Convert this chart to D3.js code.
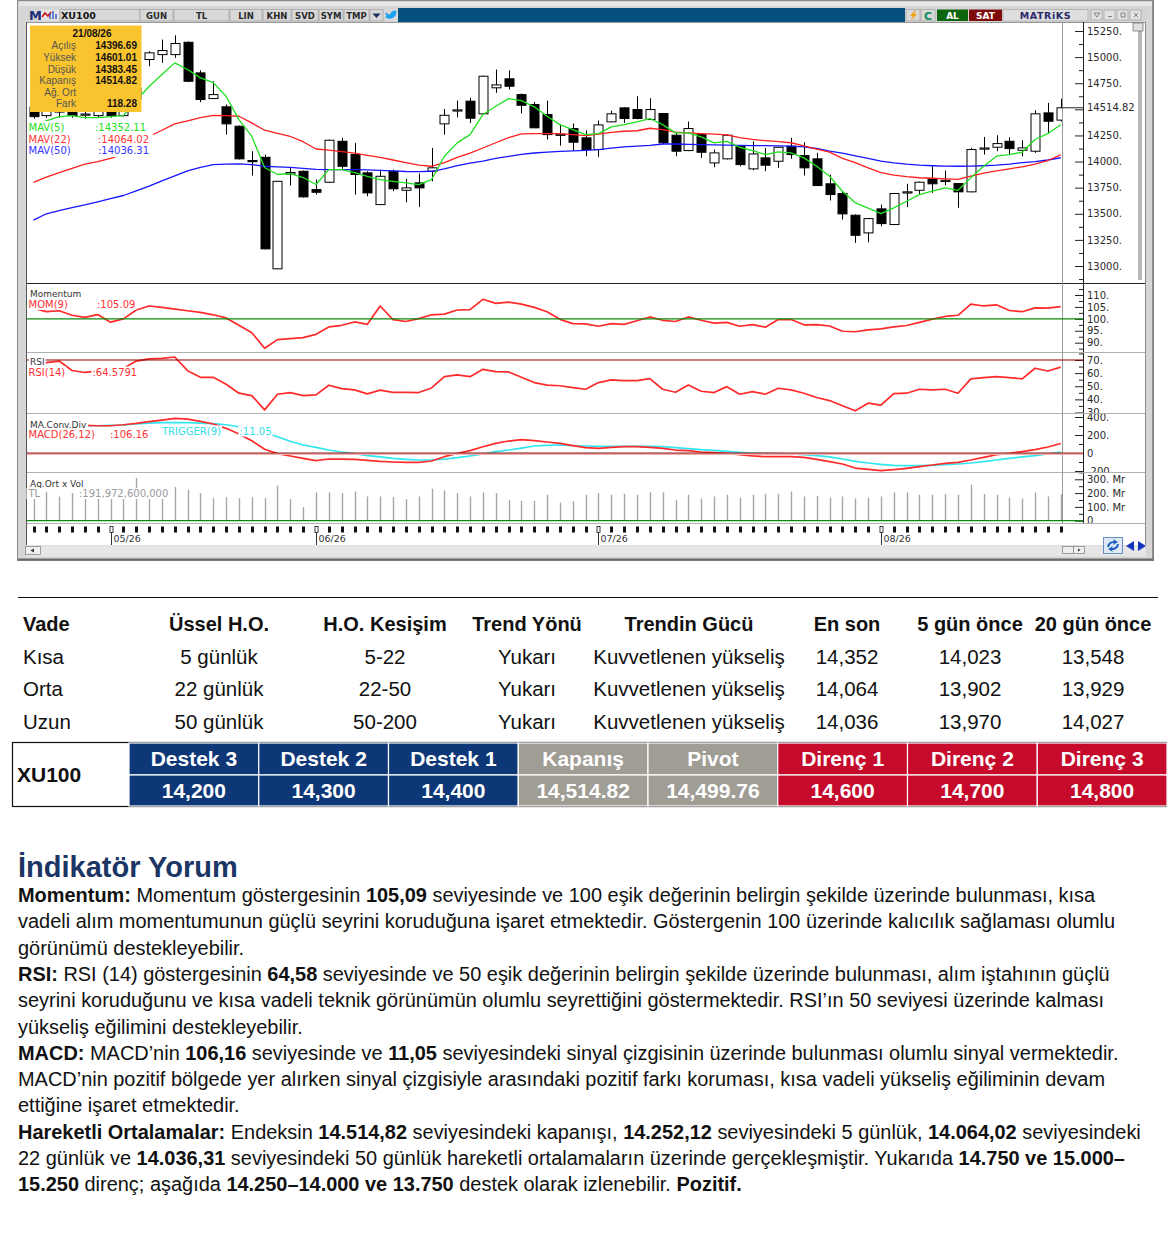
<!DOCTYPE html>
<html>
<head>
<meta charset="utf-8">
<script src="https://d3js.org/d3.v7.min.js"></script>
<style>
  body { margin: 0; background: #fff; }
  svg { display: block; }
</style>
</head>
<body>
<div id="chart"></div>
<script>
// ---- XU100 daily candles (index 0 .. 80, last = 21/08/26) ----
const opens = [14520,14440,14480,14560,14450,14440,14600,14440,14600,14977,
  15024,15024,15142,14849,14603,14524,14338,14010,14041,12973,
  13880,13907,13732,13802,14194,14067,13892,13588,13907,13725,
  13796,13907,14361,14485,14578,14457,14706,14792,14641,14546,
  14450,14255,14316,14227,14115,14380,14514,14498,14402,14460,
  14252,14105,14258,13987,14026,14147,13930,14035,14003,14147,
  14057,14026,13787,13694,13486,13317,13547,13397,13700,13725,
  13837,13810,13789,13710,14120,14137,14194,14108,14099,14466,
  14396.69];
const highs = [14560,14540,14580,14600,14560,14590,14620,14640,14760,15056,
  15168,15209,15150,14874,14769,14546,14345,14099,14067,13815,
  13940,13915,13828,14210,14227,14179,13907,13923,13923,13834,
  13885,14131,14504,14584,14610,14822,14881,14873,14651,14570,
  14584,14354,14364,14297,14393,14488,14520,14625,14606,14465,
  14274,14383,14265,14115,14258,14155,14194,14131,14140,14227,
  14185,14083,13876,13716,13495,13460,13588,13700,13787,13808,
  13955,13914,13795,14131,14236,14252,14233,14204,14491,14562,
  14601.01];
const lows = [14410,14420,14420,14420,14410,14420,14420,14430,14560,14912,
  14945,14993,14760,14568,14600,14258,14020,13866,13160,12970,
  13770,13655,13684,13795,13930,13684,13668,13585,13716,13610,
  13566,13811,14258,14424,14370,14452,14658,14689,14460,14320,
  14211,14153,14105,14051,14045,14378,14370,14405,14398,14165,
  14051,14099,14035,13946,14020,13955,13917,13907,13940,14026,
  13866,13765,13627,13445,13222,13228,13381,13395,13563,13690,
  13700,13773,13557,13705,14067,14099,14067,14051,14083,14265,
  14383.45];
const closes = [14430,14500,14485,14440,14455,14560,14440,14600,14700,15041,
  15063,15130,14769,14594,14641,14361,14026,14000,13164,13811,
  13895,13662,13706,14204,13955,13876,13700,13859,13739,13748,
  13748,13940,14443,14495,14415,14817,14734,14721,14539,14323,
  14258,14262,14185,14115,14351,14457,14412,14412,14498,14179,
  14099,14316,14089,14083,14252,13971,14073,13965,14137,14067,
  13940,13770,13684,13499,13294,13454,13406,13694,13710,13802,
  13787,13820,13710,14115,14130,14172,14124,14131,14457,14386,
  14514.82];

// ---- moving averages ----
const mav5 = [14350,14390,14430,14440,14420,14420,14430,14440,14584,14718,
  14833,14945,14881,14801,14756,14625,14402,14242,13943,13876,
  13885,13847,13780,13923,13923,13895,13859,13828,13811,13796,
  13780,13828,14051,14179,14258,14450,14529,14603,14584,14524,
  14434,14354,14306,14258,14268,14332,14354,14380,14412,14354,
  14275,14275,14236,14179,14194,14137,14105,14067,14093,14083,
  14035,13955,13859,13716,13605,13555,13502,13557,13620,13684,
  13716,13748,13725,13844,13955,14051,14067,14089,14211,14268,
  14352.11];
const mav22 = [13800,13850,13895,13935,13975,14000,14030,14070,14160,14240,
  14300,14360,14390,14420,14443,14440,14434,14370,14300,14270,
  14240,14190,14120,14110,14095,14080,14060,14040,14015,13990,
  13965,13955,13990,14040,14080,14130,14180,14230,14265,14268,
  14268,14268,14258,14249,14262,14280,14290,14295,14319,14305,
  14282,14275,14268,14262,14255,14230,14212,14200,14190,14180,
  14150,14120,14090,14030,13990,13940,13895,13870,13855,13845,
  13840,13835,13830,13860,13890,13910,13930,13950,13975,14010,
  14064.02];
const mav50 = [13440,13500,13530,13558,13585,13615,13645,13675,13720,13765,
  13815,13862,13910,13945,13971,13975,13978,13970,13955,13950,
  13945,13935,13925,13923,13923,13923,13920,13915,13910,13905,
  13903,13907,13930,13960,13985,14005,14030,14050,14068,14082,
  14090,14097,14102,14108,14115,14128,14140,14147,14155,14168,
  14168,14165,14163,14160,14157,14155,14153,14152,14150,14148,
  14140,14125,14099,14080,14055,14030,14005,13988,13975,13965,
  13960,13957,13955,13956,13960,13966,13975,13990,14000,14015,
  14036.31];

// ---- indicators ----
const mom9 = [104.4,103.0,103.4,101.5,100.6,101.8,98.6,100.0,103.7,105.4,
  104.8,104.1,103.4,102.7,101.7,100.4,97.3,94.2,87.7,91.3,
  91.7,92.1,93.5,96.6,97.3,98.7,97.7,105.4,99.7,98.9,
  100.1,101.7,102.0,103.7,103.9,108.2,106.5,107.0,106.2,104.8,
  103.0,99.8,98.0,97.9,96.9,98.0,97.7,99.2,100.8,99.4,
  98.9,100.8,99.4,98.2,98.5,96.9,97.6,96.5,99.7,99.7,
  97.5,97.6,97.0,94.8,94.6,95.4,95.8,96.6,97.2,98.5,
  99.9,101.0,101.5,106.2,105.4,105.9,103.5,103.0,104.6,104.5,
  105.09];
const rsi14 = [67.5,68.0,69.2,62.0,60.5,61.5,62.0,63.5,69.2,70.8,
  71.3,72.3,61.9,56.8,56.8,51.5,44.7,42.9,32.0,43.9,
  45.2,42.9,43.4,50.8,48.2,47.2,44.2,47.0,45.4,45.4,
  45.2,48.7,57.3,58.6,57.3,62.9,61.1,60.9,56.8,52.8,
  50.8,50.4,49.0,47.7,52.8,54.8,54.3,54.3,55.8,47.7,
  45.4,51.0,46.2,45.2,49.7,43.9,45.9,43.9,48.5,47.2,
  44.7,41.4,39.1,35.1,31.3,37.1,35.6,44.4,44.7,47.7,
  47.2,47.7,44.7,55.6,56.6,57.3,56.6,55.6,63.7,61.6,
  64.58];
const macdLine = [337,329,322,314,307,303,303,314,329,348,
  366,385,377,352,322,274,211,137,41,-7,
  -33,-59,-85,-67,-67,-70,-81,-93,-100,-104,
  -104,-89,-41,-4,26,70,107,133,148,137,
  122,106,81,59,52,63,70,70,63,52,
  33,26,11,4,-4,-19,-33,-41,-41,-41,
  -48,-70,-96,-122,-167,-181,-196,-185,-170,-152,
  -133,-115,-104,-78,-48,-19,-4,15,37,67,
  106.16];
const triggerLine = [307,303,303,303,303,303,307,311,322,333,
  337,337,337,333,326,314,292,263,226,181,
  130,89,63,33,11,-7,-30,-44,-59,-70,
  -78,-78,-67,-52,-33,-11,15,33,55,78,
  85,89,81,78,74,74,74,74,74,70,
  59,48,37,30,19,7,0,-4,-7,-11,
  -19,-30,-44,-67,-93,-111,-126,-137,-141,-141,
  -137,-130,-122,-111,-96,-78,-59,-44,-30,-11,
  11.05];
const volumeMr = [190,210,175,200,185,220,195,205,310,230,
  215,244,224,200,163,171,163,171,163,254,
  156,98,205,205,200,212,176,176,171,156,
  176,232,220,200,176,205,200,151,144,144,
  188,132,141,188,200,188,195,188,205,205,
  151,188,161,176,188,168,188,195,195,212,
  176,180,168,176,161,168,176,205,205,188,
  188,193,188,261,193,188,168,161,205,176,
  191.97];

// ---- axis ticks and labels ----
const monthStarts = [6, 22, 44, 66];
const monthLabels = ["05/26", "06/26", "07/26", "08/26"];
const priceTicks = [13000, 13250, 13500, 13750, 14000, 14250, 14500, 14750, 15000, 15250];
const momTicks = [90, 95, 100, 105, 110];
const rsiTicks = [30, 40, 50, 60, 70];
const macdTicks = [-200, 0, 200, 400];
const volTicks = [0, 100, 200, 300];

// ---- info box / legends ----
const infoDate = "21/08/26";
const infoLabels = ["Açılış", "Yüksek", "Düşük", "Kapanış", "Ağ. Ort", "Fark"];
const infoValues = ["14396.69", "14601.01", "14383.45", "14514.82", "", "118.28"];
const lastClose = 14514.82;

// ---- trend table ----
const trendHeaders = ["Vade", "Üssel H.O.", "H.O. Kesişim", "Trend Yönü", "Trendin Gücü", "En son", "5 gün önce", "20 gün önce"];
const vadeCol = ["Kısa", "Orta", "Uzun"];
const usselCol = ["5 günlük", "22 günlük", "50 günlük"];
const kesisimCol = ["5-22", "22-50", "50-200"];
const yonCol = ["Yukarı", "Yukarı", "Yukarı"];
const gucCol = ["Kuvvetlenen yükseliş", "Kuvvetlenen yükseliş", "Kuvvetlenen yükseliş"];
const enSonCol = ["14,352", "14,064", "14,036"];
const besGunCol = ["14,023", "13,902", "13,970"];
const yirmiGunCol = ["13,548", "13,929", "14,027"];

// ---- pivot levels ----
const pivotLabels = ["Destek 3", "Destek 2", "Destek 1", "Kapanış", "Pivot", "Direnç 1", "Direnç 2", "Direnç 3"];
const pivotValues = ["14,200", "14,300", "14,400", "14,514.82", "14,499.76", "14,600", "14,700", "14,800"];
const pivotKinds = ["s", "s", "s", "c", "c", "r", "r", "r"];

// ---- comment text (segments: [text, bold]) ----
const commentLines = [
  [["Momentum:", 1], [" Momentum göstergesinin ", 0], ["105,09", 1], [" seviyesinde ve 100 eşik değerinin belirgin şekilde üzerinde bulunması, kısa", 0]],
  [["vadeli alım momentumunun güçlü seyrini koruduğuna işaret etmektedir. Göstergenin 100 üzerinde kalıcılık sağlaması olumlu", 0]],
  [["görünümü destekleyebilir.", 0]],
  [["RSI:", 1], [" RSI (14) göstergesinin ", 0], ["64,58", 1], [" seviyesinde ve 50 eşik değerinin belirgin şekilde üzerinde bulunması, alım iştahının güçlü", 0]],
  [["seyrini koruduğunu ve kısa vadeli teknik görünümün olumlu seyrettiğini göstermektedir. RSI’ın 50 seviyesi üzerinde kalması", 0]],
  [["yükseliş eğilimini destekleyebilir.", 0]],
  [["MACD:", 1], [" MACD’nin ", 0], ["106,16", 1], [" seviyesinde ve ", 0], ["11,05", 1], [" seviyesindeki sinyal çizgisinin üzerinde bulunması olumlu sinyal vermektedir.", 0]],
  [["MACD’nin pozitif bölgede yer alırken sinyal çizgisiyle arasındaki pozitif farkı koruması, kısa vadeli yükseliş eğiliminin devam", 0]],
  [["ettiğine işaret etmektedir.", 0]],
  [["Hareketli Ortalamalar:", 1], [" Endeksin ", 0], ["14.514,82", 1], [" seviyesindeki kapanışı, ", 0], ["14.252,12", 1], [" seviyesindeki 5 günlük, ", 0], ["14.064,02", 1], [" seviyesindeki", 0]],
  [["22 günlük ve ", 0], ["14.036,31", 1], [" seviyesindeki 50 günlük hareketli ortalamaların üzerinde gerçekleşmiştir. Yukarıda ", 0], ["14.750 ve 15.000–", 1]],
  [["15.250", 1], [" direnç; aşağıda ", 0], ["14.250–14.000 ve 13.750", 1], [" destek olarak izlenebilir. ", 0], ["Pozitif.", 1]]
];

// ================= layout =================
const W = 1169, H = 1236;
const plotL = 27, plotR = 1062, axisX = 1083, areaR = 1145;
const panels = {
  price: [22, 283], mom: [284, 352], rsi: [353, 413], macd: [414, 472], vol: [473, 523]
};
const chartFont = "DejaVu Sans, Verdana, sans-serif";
const docFont = "Liberation Sans, Arial, sans-serif";

const svg = d3.select("#chart").append("svg")
  .attr("width", W).attr("height", H)
  .style("font-family", chartFont);
const defs = svg.append("defs");

// scales
const x = d3.scaleLinear().domain([0, 80]).range([33.5, 1060.7]);
const yPrice = d3.scaleLinear().domain([13000, 15250]).range([266, 31]);
const yMom = d3.scaleLinear().domain([90, 110]).range([342.7, 295]);
const yRsi = d3.scaleLinear().domain([30, 70]).range([412.5, 360]);
const yMacd = d3.scaleLinear().domain([-200, 200]).range([471, 435]);
const yVol = d3.scaleLinear().domain([0, 300]).range([520.7, 479.3]);

function addClip(id, x0, y0, x1, y1) {
  defs.append("clipPath").attr("id", id).append("rect")
    .attr("x", x0).attr("y", y0).attr("width", x1 - x0).attr("height", y1 - y0);
}
Object.entries(panels).forEach(([k, p]) => {
  addClip("clip-" + k, plotL, p[0], plotR, p[1]);
  addClip("aclip-" + k, plotR + 1, p[0], areaR, p[1]);
});

// ================= window frame =================
svg.append("rect").attr("x", 17.5).attr("y", 0.5).attr("width", 1136).attr("height", 560)
  .attr("fill", "#d6d6d6").attr("stroke", "#8a8a8a");
svg.append("rect").attr("x", 19).attr("y", 2).attr("width", 1133).attr("height", 4).attr("fill", "#e6e6e6");
svg.append("line").attr("x1", 18).attr("x2", 1154).attr("y1", 559.5).attr("y2", 559.5).attr("stroke", "#6a6a6a").attr("stroke-width", 2);
svg.append("line").attr("x1", 1153).attr("x2", 1153).attr("y1", 1).attr("y2", 560).attr("stroke", "#7a7a7a").attr("stroke-width", 1.5);

// toolbar
const tb = svg.append("g");
tb.append("rect").attr("x", 27).attr("y", 8).attr("width", 1120).attr("height", 14).attr("fill", "#d4d4d4");
tb.append("text").attr("x", 29).attr("y", 20).text("M")
  .attr("font-size", 13).attr("font-weight", "bold").attr("fill", "#1c2f7a");
tb.append("rect").attr("x", 41).attr("y", 9.5).attr("width", 18).attr("height", 11).attr("fill", "#e4e4e4");
tb.append("path").attr("d", "M42,17 L45,13 L48,16 L51,12").attr("fill", "none").attr("stroke", "#d01010").attr("stroke-width", 1.5);
tb.append("path").attr("d", "M50,19 L50,13 M53,19 L53,11 M56,19 L56,14").attr("stroke", "#2040c0").attr("stroke-width", 1.2);
tb.append("rect").attr("x", 60).attr("y", 9.5).attr("width", 80).attr("height", 11.5).attr("fill", "#d8d8d8").attr("stroke", "#9a9a9a").attr("stroke-width", 0.6);
tb.append("text").attr("x", 61).attr("y", 19).text("XU100").attr("font-size", 9.5).attr("font-weight", "bold").attr("fill", "#111");
[[140, 173, "GUN"], [174, 229, "TL"], [230, 262, "LIN"], [263, 291, "KHN"], [292, 318, "SVD"], [319, 343, "SYM"], [344, 369, "TMP"]]
  .forEach(([a, b, t]) => {
    tb.append("rect").attr("x", a).attr("y", 9.5).attr("width", b - a).attr("height", 11.5)
      .attr("fill", "#d8d8d8").attr("stroke", "#9a9a9a").attr("stroke-width", 0.6);
    tb.append("text").attr("x", (a + b) / 2).attr("y", 18.8).attr("text-anchor", "middle").text(t)
      .attr("font-size", 8.5).attr("font-weight", "bold").attr("fill", "#2a2a2a");
  });
tb.append("rect").attr("x", 370).attr("y", 9.5).attr("width", 13).attr("height", 11.5).attr("fill", "#d8d8d8").attr("stroke", "#9a9a9a").attr("stroke-width", 0.6);
tb.append("path").attr("d", "M372.5,13.5 L380.5,13.5 L376.5,18 Z").attr("fill", "#1a2a5a");
tb.append("rect").attr("x", 384).attr("y", 9.5).attr("width", 14).attr("height", 11.5).attr("fill", "#d8d8d8");
tb.append("path").attr("d", "M385,17 Q388,20 393,18 Q397,15 396,12 L398,11 L396,11 Q394,10 392,11.5 Q390,13 390.5,14.5 Q387,14 385.5,12 Q385,15 387,16 Z")
  .attr("fill", "#1da1f2");
tb.append("rect").attr("x", 398).attr("y", 8).attr("width", 507).attr("height", 14).attr("fill", "#05507e");
tb.append("rect").attr("x", 906).attr("y", 9.5).attr("width", 14).attr("height", 11.5).attr("fill", "#d8d8d8").attr("stroke", "#9a9a9a").attr("stroke-width", 0.6);
tb.append("path").attr("d", "M915,10.5 L910,16 L913,16 L911,20.5 L917,14 L914,14 L916,10.5 Z").attr("fill", "#f0a000");
tb.append("rect").attr("x", 921).attr("y", 9.5).attr("width", 14).attr("height", 11.5).attr("fill", "#d8d8d8").attr("stroke", "#9a9a9a").attr("stroke-width", 0.6);
tb.append("text").attr("x", 928).attr("y", 19.5).attr("text-anchor", "middle").text("C")
  .attr("font-size", 11).attr("font-weight", "bold").attr("fill", "#0a8a5a");
tb.append("rect").attr("x", 937).attr("y", 9.5).attr("width", 31).attr("height", 11.5).attr("fill", "#0d660d");
tb.append("text").attr("x", 952.5).attr("y", 19).attr("text-anchor", "middle").text("AL")
  .attr("font-size", 9).attr("font-weight", "bold").attr("fill", "#fff");
tb.append("rect").attr("x", 969).attr("y", 9.5).attr("width", 33).attr("height", 11.5).attr("fill", "#7e0c0c");
tb.append("text").attr("x", 985.5).attr("y", 19).attr("text-anchor", "middle").text("SAT")
  .attr("font-size", 9).attr("font-weight", "bold").attr("fill", "#fff");
tb.append("rect").attr("x", 1003).attr("y", 9.5).attr("width", 85).attr("height", 11.5).attr("fill", "#dedede").attr("stroke", "#a0a0a0").attr("stroke-width", 0.6);
tb.append("text").attr("x", 1045.5).attr("y", 19).attr("text-anchor", "middle").text("MATRiKS")
  .attr("font-size", 9.5).attr("font-weight", "bold").attr("fill", "#2a2a6a").attr("letter-spacing", 0.6);
[1091, 1104, 1117, 1130].forEach((bx, i) => {
  tb.append("rect").attr("x", bx).attr("y", 10).attr("width", 11).attr("height", 10)
    .attr("fill", "#e2e2e2").attr("stroke", "#a0a0a0").attr("stroke-width", 0.7);
  const g = ["M93,13 L99,13 L96,17 Z", "M94,16.5 L98,16.5", "M94,13 L98,13 L98,17 L94,17 Z", "M94,13 L98,17 M98,13 L94,17"][i];
  tb.append("path").attr("d", g).attr("transform", `translate(${bx - 90},0)`)
    .attr("fill", "none").attr("stroke", "#777").attr("stroke-width", 0.9);
});

// white chart area
svg.append("rect").attr("x", plotL).attr("y", 22).attr("width", areaR - plotL).attr("height", 523).attr("fill", "#fff");
svg.append("line").attr("x1", plotL - 0.5).attr("x2", plotL - 0.5).attr("y1", 22).attr("y2", 545).attr("stroke", "#555");
svg.append("line").attr("x1", plotL).attr("x2", areaR).attr("y1", 22.5).attr("y2", 22.5).attr("stroke", "#999");
svg.append("line").attr("x1", areaR + 0.5).attr("x2", areaR + 0.5).attr("y1", 22).attr("y2", 545).attr("stroke", "#888");
svg.append("rect").attr("x", 1138).attr("y", 30).attr("width", 4).attr("height", 250).attr("fill", "#b8b8b8");
svg.append("rect").attr("x", 1133).attr("y", 23).attr("width", 10).attr("height", 8).attr("fill", "#e0e0e0").attr("stroke", "#777").attr("stroke-width", 0.8);

// panel separators
svg.append("line").attr("x1", plotL).attr("x2", areaR).attr("y1", 283.5).attr("y2", 283.5).attr("stroke", "#222");
[352.5, 413.5, 472.5, 523.5].forEach(yy => {
  svg.append("line").attr("x1", plotL).attr("x2", areaR).attr("y1", yy).attr("y2", yy).attr("stroke", "#b0b0b0").attr("stroke-width", 1.2);
});
svg.append("line").attr("x1", plotR + 0.5).attr("x2", plotR + 0.5).attr("y1", 22).attr("y2", 523).attr("stroke", "#999");

// ================= right axes =================
function rightAxis(key, scale, ticks, fmt) {
  const p = panels[key];
  const g = svg.append("g").attr("clip-path", `url(#aclip-${key})`);
  const step = ticks[1] - ticks[0];
  const minor = [];
  for (let i = -1; i < ticks.length; i++) minor.push(ticks[0] + step * (i + 0.5));
  const ga = g.append("g").attr("transform", `translate(${axisX},0)`)
    .call(d3.axisRight(scale).tickValues(ticks).tickSizeInner(-8).tickSizeOuter(0).tickPadding(4).tickFormat(fmt));
  const gm = g.append("g").attr("transform", `translate(${axisX},0)`)
    .call(d3.axisRight(scale).tickValues(minor).tickSizeInner(-4).tickSizeOuter(0).tickFormat(""));
  [ga, gm].forEach(s => {
    s.select(".domain").remove();
    s.attr("font-family", null).attr("font-size", null);
    s.selectAll("line").attr("stroke", "#222");
  });
  ga.selectAll("text").attr("font-family", chartFont).attr("font-size", 10).attr("fill", "#2a2a2a");
  g.append("line").attr("x1", axisX + 0.5).attr("x2", axisX + 0.5).attr("y1", p[0]).attr("y2", p[1]).attr("stroke", "#222");
  return g;
}
// the 14500 label sits under the last-price marker, so it is left blank
rightAxis("price", yPrice, priceTicks, d => d === 14500 ? "" : d + ".");
rightAxis("mom", yMom, momTicks, d => d + ".");
rightAxis("rsi", yRsi, rsiTicks, d => d + ".");
rightAxis("macd", yMacd, macdTicks, d => d === 0 ? "0" : (d < 0 ? String(d) : d + "."));
rightAxis("vol", yVol, volTicks, d => d === 0 ? "0" : d + ". Mr");

// current price marker
const yLast = yPrice(lastClose);
svg.append("line").attr("x1", plotR).attr("x2", axisX).attr("y1", yLast).attr("y2", yLast).attr("stroke", "#222");
const lastTxt = svg.append("text").attr("x", axisX + 4).attr("y", yLast).attr("dy", "0.32em")
  .attr("font-size", 10).attr("fill", "#2a2a2a").text(d3.format(".2f")(lastClose));
{
  const b = lastTxt.node().getBBox();
  svg.insert("rect", () => lastTxt.node()).attr("x", b.x - 1).attr("y", b.y - 1)
    .attr("width", b.width + 4).attr("height", b.height + 2).attr("fill", "#fff");
}

// ================= price panel =================
const pricePlot = svg.append("g").attr("clip-path", "url(#clip-price)");
const idx = d3.range(closes.length);
const bodyW = 9;
const candles = pricePlot.selectAll(".candle").data(idx).enter().append("g").attr("class", "candle");
candles.append("line")
  .attr("x1", i => Math.round(x(i)) + 0.5).attr("x2", i => Math.round(x(i)) + 0.5)
  .attr("y1", i => yPrice(highs[i])).attr("y2", i => yPrice(lows[i]))
  .attr("stroke", "#000");
candles.append("rect")
  .attr("x", i => Math.round(x(i)) - bodyW / 2 + 0.5)
  .attr("y", i => Math.min(yPrice(opens[i]), yPrice(closes[i])))
  .attr("width", bodyW)
  .attr("height", i => Math.max(1.2, Math.abs(yPrice(opens[i]) - yPrice(closes[i]))))
  .attr("fill", i => closes[i] >= opens[i] ? "#fff" : "#000")
  .attr("stroke", "#000").attr("stroke-width", 1);

function drawLine(g, values, yScale, color, width) {
  g.append("path").datum(values)
    .attr("fill", "none").attr("stroke", color).attr("stroke-width", width)
    .attr("stroke-linejoin", "round")
    .attr("d", d3.line().x((d, i) => x(i)).y(d => yScale(d)));
}
drawLine(pricePlot, mav50, yPrice, "#1515ff", 1.3);
drawLine(pricePlot, mav22, yPrice, "#ff1e1e", 1.3);
drawLine(pricePlot, mav5, yPrice, "#20e020", 1.3);

// label with white background
function bgLabel(g, lx, ly, text, color, size, weight) {
  const t = g.append("text").attr("x", lx).attr("y", ly).text(text)
    .attr("fill", color).attr("font-size", size).attr("font-weight", weight || "normal");
  const b = t.node().getBBox();
  g.insert("rect", () => t.node()).attr("x", b.x - 1).attr("y", b.y)
    .attr("width", b.width + 2).attr("height", b.height).attr("fill", "#fff");
  return t;
}

// MAV legend
const leg = svg.append("g");
leg.append("rect").attr("x", plotL).attr("y", 121).attr("width", 126).attr("height", 36).attr("fill", "#fff");
[["MAV(5)", ":14352.11", "#22dd22", 95], ["MAV(22)", ":14064.02", "#ff3535", 98], ["MAV(50)", ":14036.31", "#3535ff", 98]]
  .forEach(([a, b, c, vx], k) => {
    leg.append("text").attr("x", 28.5).attr("y", 131 + k * 11.7).attr("font-size", 10).attr("fill", c).text(a);
    leg.append("text").attr("x", vx).attr("y", 131 + k * 11.7).attr("font-size", 10).attr("fill", c).text(b);
  });

// info box
const info = svg.append("g").attr("font-family", docFont);
info.append("rect").attr("x", 30).attr("y", 25.5).attr("width", 111.5).attr("height", 86.5).attr("fill", "#fac42e");
info.append("text").attr("x", 92).attr("y", 37).attr("text-anchor", "middle").text(infoDate)
  .attr("font-size", 10).attr("font-weight", "bold").attr("fill", "#111");
infoLabels.forEach((l, k) => {
  info.append("text").attr("x", 76).attr("y", 49.3 + k * 11.6).attr("text-anchor", "end").text(l)
    .attr("font-size", 10).attr("fill", "#555");
  info.append("text").attr("x", 137).attr("y", 49.3 + k * 11.6).attr("text-anchor", "end").text(infoValues[k])
    .attr("font-size", 10).attr("font-weight", "bold").attr("fill", "#111");
});

// ================= momentum =================
const momG = svg.append("g").attr("clip-path", "url(#clip-mom)");
svg.append("line").attr("x1", plotL).attr("x2", axisX).attr("y1", yMom(100)).attr("y2", yMom(100)).attr("stroke", "#0a8a0a").attr("stroke-width", 1.2);
drawLine(momG, mom9, yMom, "#ff2a2a", 1.7);
const momLab = svg.append("g");
bgLabel(momLab, 30, 297, "Momentum", "#333", 9);
bgLabel(momLab, 28.5, 308, "MOM(9)", "#ff3030", 10);
bgLabel(momLab, 97, 308, ":105.09", "#ff3030", 10);

// ================= RSI =================
const rsiG = svg.append("g").attr("clip-path", "url(#clip-rsi)");
svg.append("line").attr("x1", plotL).attr("x2", axisX).attr("y1", yRsi(70)).attr("y2", yRsi(70)).attr("stroke", "#900000").attr("stroke-width", 1.2);
drawLine(rsiG, rsi14, yRsi, "#ff2a2a", 1.7);
const rsiLab = svg.append("g");
bgLabel(rsiLab, 30, 365, "RSI", "#333", 9);
bgLabel(rsiLab, 28.5, 375.5, "RSI(14)", "#ff3030", 10);
bgLabel(rsiLab, 92.5, 375.5, ":64.5791", "#ff3030", 10);

// ================= MACD =================
const macdG = svg.append("g").attr("clip-path", "url(#clip-macd)");
svg.append("line").attr("x1", plotL).attr("x2", axisX).attr("y1", yMacd(0) + 1).attr("y2", yMacd(0) + 1).attr("stroke", "#f2b0b0").attr("stroke-width", 2);
svg.append("line").attr("x1", plotL).attr("x2", axisX).attr("y1", yMacd(0)).attr("y2", yMacd(0)).attr("stroke", "#8a1515").attr("stroke-width", 1);
drawLine(macdG, triggerLine, yMacd, "#30e6ef", 1.7);
drawLine(macdG, macdLine, yMacd, "#ff2a2a", 1.7);
const macdLab = svg.append("g");
bgLabel(macdLab, 30, 427.5, "MA.Conv.Div", "#333", 9);
bgLabel(macdLab, 28.5, 438, "MACD(26,12)", "#ff3030", 10);
bgLabel(macdLab, 110, 438, ":106.16", "#ff3030", 10);
bgLabel(macdLab, 162, 434.5, "TRIGGER(9)", "#30dfe8", 10);
bgLabel(macdLab, 239.5, 434.5, ":11.05", "#30dfe8", 10);

// ================= volume =================
const volG = svg.append("g").attr("clip-path", "url(#clip-vol)");
svg.append("line").attr("x1", plotL).attr("x2", axisX).attr("y1", yVol(0)).attr("y2", yVol(0)).attr("stroke", "#0a8a0a").attr("stroke-width", 1.2);
volG.selectAll(".vbar").data(idx).enter().append("line")
  .attr("x1", i => Math.round(x(i)) + 0.5).attr("x2", i => Math.round(x(i)) + 0.5)
  .attr("y1", yVol(0) - 0.6).attr("y2", i => yVol(volumeMr[i]))
  .attr("stroke", "#a6a6a6").attr("stroke-width", 1.4);
const volLab = svg.append("g");
bgLabel(volLab, 30, 486.5, "Ag.Ort x Vol", "#333", 9);
bgLabel(volLab, 28.5, 497, "TL", "#9a9a9a", 10);
bgLabel(volLab, 79, 497, ":191,972,600,000", "#9a9a9a", 10);

// ================= time axis =================
const tAxis = svg.append("g");
tAxis.selectAll(".tk").data(idx).enter().append("rect")
  .attr("x", i => Math.round(x(i)) - 1).attr("y", 526.5).attr("width", 3).attr("height", 6)
  .attr("fill", i => monthStarts.includes(i) ? "#fff" : "#111")
  .attr("stroke", i => monthStarts.includes(i) ? "#111" : "none").attr("stroke-width", 0.8);
monthStarts.forEach((mi, k) => {
  const mx = Math.round(x(mi)) + 0.5;
  tAxis.append("line").attr("x1", mx).attr("x2", mx).attr("y1", 532).attr("y2", 545).attr("stroke", "#333");
  tAxis.append("text").attr("x", mx + 2).attr("y", 542).text(monthLabels[k]).attr("font-size", 9.5).attr("fill", "#333");
});

// bottom scrollbar
svg.append("rect").attr("x", plotL - 1).attr("y", 545.5).attr("width", 1120).attr("height", 11).attr("fill", "#e6e6e6");
svg.append("rect").attr("x", 25.5).attr("y", 546.5).attr("width", 15).attr("height", 8).attr("fill", "#efefef").attr("stroke", "#888").attr("stroke-width", 0.8);
svg.append("path").attr("d", "M30.5,550.5 L34,548.5 L34,552.5 Z").attr("fill", "#333");
svg.append("rect").attr("x", 1062.5).attr("y", 546.5).attr("width", 11).attr("height", 7).attr("fill", "#efefef").attr("stroke", "#888").attr("stroke-width", 0.8);
svg.append("rect").attr("x", 1073.5).attr("y", 546.5).attr("width", 11).attr("height", 7).attr("fill", "#efefef").attr("stroke", "#888").attr("stroke-width", 0.8);
svg.append("path").attr("d", "M1078,548.5 L1080.5,550 L1078,551.5 Z").attr("fill", "#333");
svg.append("rect").attr("x", 1103.5).attr("y", 537.5).attr("width", 19).attr("height", 16).attr("fill", "#dfe9f6").attr("stroke", "#6d8fc0");
svg.append("path").attr("d", "M1107,547 Q1108,541 1114,541 L1113,539 L1118,542 L1113,545 L1114,543 Q1110,543 1109,547 Z M1119,544 Q1118,550 1112,550 L1113,552 L1108,549 L1113,546 L1112,548 Q1116,548 1117,544 Z")
  .attr("fill", "#1f5fbf");
svg.append("path").attr("d", "M1126,546 L1134,541 L1134,551 Z M1146,546 L1138,541 L1138,551 Z").attr("fill", "#1535c0");

// ================= trend table =================
const doc = svg.append("g").attr("font-family", docFont);
doc.append("line").attr("x1", 18).attr("x2", 1158).attr("y1", 597.5).attr("y2", 597.5).attr("stroke", "#111");
const colCenters = [23, 219, 385, 527, 689, 847, 970, 1093];
trendHeaders.forEach((h, c) => {
  doc.append("text").attr("x", colCenters[c]).attr("y", 630.5)
    .attr("text-anchor", c === 0 ? "start" : "middle")
    .attr("font-size", 20).attr("font-weight", "bold").attr("fill", "#111").text(h);
});
const trendCols = [vadeCol, usselCol, kesisimCol, yonCol, gucCol, enSonCol, besGunCol, yirmiGunCol];
trendCols.forEach((col, c) => {
  col.forEach((v, r) => {
    doc.append("text").attr("x", colCenters[c]).attr("y", 663.5 + r * 32.6)
      .attr("text-anchor", c === 0 ? "start" : "middle")
      .attr("font-size", 20.5).attr("fill", "#111").text(v);
  });
});

// ================= pivot table =================
const pvX0 = 12, pvLabelW = 117, pvTop = 742, pvRowH = 32;
const pvCellW = (1167 - pvX0 - pvLabelW) / pivotLabels.length;
const pvColor = { s: "#0e3778", c: "#a09d95", r: "#c50a2c" };
const pv = doc.append("g");
pv.append("rect").attr("x", pvX0 + 0.5).attr("y", pvTop + 0.5).attr("width", 1167 - pvX0 - 1).attr("height", pvRowH * 2)
  .attr("fill", "#fff").attr("stroke", "#111").attr("stroke-width", 1.2);
pv.append("text").attr("x", 17).attr("y", pvTop + pvRowH + 7.5).text("XU100")
  .attr("font-size", 21).attr("font-weight", "bold").attr("fill", "#111");
pivotLabels.forEach((lab, k) => {
  const cx0 = pvX0 + pvLabelW + k * pvCellW;
  [lab, pivotValues[k]].forEach((t, r) => {
    pv.append("rect").attr("x", cx0).attr("y", pvTop + 1 + r * pvRowH).attr("width", pvCellW)
      .attr("height", pvRowH - (r ? 1 : 0)).attr("fill", pvColor[pivotKinds[k]])
      .attr("stroke", "#fff").attr("stroke-width", 1.2);
    pv.append("text").attr("x", cx0 + pvCellW / 2).attr("y", pvTop + 24 + r * pvRowH)
      .attr("text-anchor", "middle").attr("font-size", 21).attr("font-weight", "bold")
      .attr("fill", "#fff").text(t);
  });
});

// ================= comment text =================
doc.append("text").attr("x", 18).attr("y", 877).text("İndikatör Yorum")
  .attr("font-size", 29).attr("font-weight", "bold").attr("fill", "#1b3564");
const paraG = doc.append("g").style("white-space", "pre");
const lineNodes = commentLines.map((segs, li) => {
  const t = paraG.append("text").attr("x", 18).attr("y", 902 + li * 26.3)
    .attr("font-size", 17.5).attr("fill", "#111");
  segs.forEach(([s, b]) => t.append("tspan").attr("font-weight", b ? "bold" : "normal").text(s));
  return t;
});
// fit the text size so the first line spans the same width as in the page
const w0 = lineNodes[0].node().getComputedTextLength();
if (w0 > 0) {
  const fs = 17.5 * 1078 / w0;
  lineNodes.forEach(t => t.attr("font-size", fs));
}
</script>
</body>
</html>
